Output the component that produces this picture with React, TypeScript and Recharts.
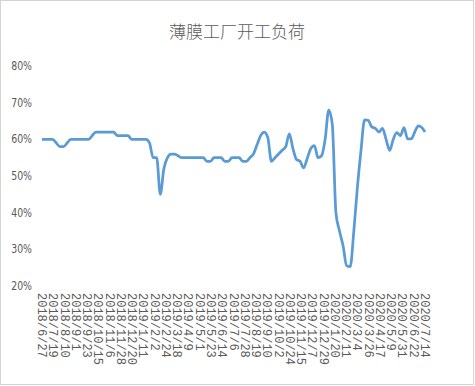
import React from "react";
import { LineChart, Line, XAxis, YAxis } from "recharts";

const dates: string[] = [
  "2018/6/27","2018/7/4","2018/7/11","2018/7/18","2018/7/25","2018/8/1","2018/8/8","2018/8/15","2018/8/22","2018/8/29",
  "2018/9/5","2018/9/12","2018/9/19","2018/9/26","2018/10/3","2018/10/10","2018/10/17","2018/10/24","2018/10/31","2018/11/7",
  "2018/11/14","2018/11/21","2018/11/28","2018/12/5","2018/12/12","2018/12/19","2018/12/26",
  "2019/1/2","2019/1/9","2019/1/16","2019/1/23","2019/1/30","2019/2/6","2019/2/13","2019/2/20","2019/2/27","2019/3/6",
  "2019/3/13","2019/3/20","2019/3/27","2019/4/3","2019/4/10","2019/4/17","2019/4/24","2019/5/1","2019/5/8","2019/5/15",
  "2019/5/22","2019/5/29","2019/6/5","2019/6/12","2019/6/19","2019/6/26","2019/7/3","2019/7/10","2019/7/17","2019/7/24",
  "2019/7/31","2019/8/7","2019/8/14","2019/8/21","2019/8/28","2019/9/4","2019/9/11","2019/9/18","2019/9/25","2019/10/2",
  "2019/10/9","2019/10/16","2019/10/23","2019/10/30","2019/11/6","2019/11/13","2019/11/20","2019/11/27","2019/12/4","2019/12/11",
  "2019/12/18","2019/12/25",
  "2020/1/1","2020/1/8","2020/1/15","2020/1/22","2020/1/29","2020/2/5","2020/2/12","2020/2/19","2020/2/26","2020/3/4",
  "2020/3/11","2020/3/18","2020/3/25","2020/4/1","2020/4/8","2020/4/15","2020/4/22","2020/4/29","2020/5/6","2020/5/13",
  "2020/5/20","2020/5/27","2020/6/3","2020/6/10","2020/6/17","2020/6/24","2020/7/1","2020/7/8","2020/7/14",
];

const loadRate: number[] = [
  60, 60, 60, 60, 59, 58, 58, 59, 60, 60,
  60, 60, 60, 60, 61, 62, 62, 62, 62, 62,
  62, 61, 61, 61, 61, 60, 60,
  60, 60, 60, 59, 55, 55, 45, 52, 55,
  56, 56, 55.5, 55, 55, 55, 55, 55, 55, 55,
  54, 54, 55, 55, 55, 54, 54, 55, 55, 55,
  54, 54, 55, 56, 58.5, 61, 62, 60.5, 54, 55,
  56, 57, 58, 61.5, 57.5, 54.5, 54, 52.2, 54.8, 57.5,
  58.3, 55, 55.5,
  60, 68, 64, 40, 35, 31, 25.5, 25.3, 35, 47,
  57, 65.3, 65.2, 63.4, 63, 62, 63, 60, 57, 60,
  61.8, 61, 63.2, 60.1, 60.1, 62, 63.7, 63.2, 62,
];

const tickLabels: string[] = [
  "2018/6/27","2018/7/19","2018/8/10","2018/9/1","2018/9/23","2018/10/15","2018/11/6","2018/11/28","2018/12/20",
  "2019/1/11","2019/2/2","2019/2/24","2019/3/18","2019/4/9","2019/5/1","2019/5/23","2019/6/14","2019/7/6","2019/7/28",
  "2019/8/19","2019/9/10","2019/10/2","2019/10/24","2019/11/15","2019/12/7","2019/12/29","2020/1/20","2020/2/11",
  "2020/3/4","2020/3/26","2020/4/17","2020/5/9","2020/5/31","2020/6/22","2020/7/14",
];

const yTicks: number[] = [0.2, 0.3, 0.4, 0.5, 0.6, 0.7, 0.8];
const title = "薄膜工厂开工负荷";

const toDay = (s: string): number => {
  const [y, m, d] = s.split("/").map(Number);
  return Math.round(Date.UTC(y, m - 1, d) / 86400000);
};
const base = toDay(dates[0]);
const data = dates.map((d, i) => ({ day: toDay(d) - base, value: loadRate[i] / 100 }));
const tickDays = tickLabels.map((t) => toDay(t) - base);
const labelByDay: Record<number, string> = {};
tickLabels.forEach((t, i) => (labelByDay[tickDays[i]] = t));

const XTick = (props: any) => {
  const { x, y, payload } = props;
  return (
    <text
      x={x}
      y={y}
      dy={4}
      transform={`rotate(90, ${x}, ${y})`}
      textAnchor="start"
      fill="#595959"
      fontSize={12}
      fontFamily="'Liberation Mono', 'DejaVu Sans Mono', monospace"
    >
      {labelByDay[payload.value]}
    </text>
  );
};

const YTick = (props: any) => {
  const { x, y, payload } = props;
  return (
    <text
      x={x}
      y={y}
      dy={4}
      textAnchor="end"
      fill="#595959"
      fontSize={13}
      fontFamily="'DejaVu Sans Condensed', 'Liberation Sans', sans-serif"
      transform={`translate(${x}, 0) scale(0.8, 1) translate(${-x}, 0)`}
    >
      {`${Math.round(payload.value * 100)}%`}
    </text>
  );
};

export default function App() {
  return (
    <div style={{ position: "absolute", left: 0, top: 0, width: 475, height: 386, background: "#fff" }}>
      <div
        style={{
          position: "absolute",
          left: 0,
          top: 0,
          width: 474,
          height: 385,
          boxSizing: "border-box",
          border: "1px solid #d4d4d4",
        }}
      />
      <div
        style={{
          position: "absolute",
          left: 0,
          top: 20,
          width: 474,
          textAlign: "center",
          fontSize: 17,
          lineHeight: "22px",
          color: "#595959",
          fontFamily: "'Noto Sans CJK SC', sans-serif",
          fontWeight: 300,
        }}
      >
        {title}
      </div>
      <div style={{ position: "absolute", left: 0, top: 0 }}>
        <LineChart width={475} height={386} data={data} margin={{ top: 66, right: 50, left: 0, bottom: 0 }}>
          <XAxis
            dataKey="day"
            type="number"
            domain={[0, tickDays[tickDays.length - 1]]}
            ticks={tickDays}
            interval={0}
            height={100}
            axisLine={false}
            tickLine={false}
            tickSize={0}
            tickMargin={7}
            tick={<XTick />}
          />
          <YAxis
            type="number"
            domain={[0.2, 0.8]}
            ticks={yTicks}
            width={42}
            axisLine={false}
            tickLine={false}
            tickSize={0}
            tickMargin={10}
            tick={<YTick />}
          />
          <Line
            type="monotone"
            dataKey="value"
            stroke="#5b9bd5"
            strokeWidth={2.75}
            dot={false}
            isAnimationActive={false}
            strokeLinejoin="round"
          />
        </LineChart>
      </div>
    </div>
  );
}
